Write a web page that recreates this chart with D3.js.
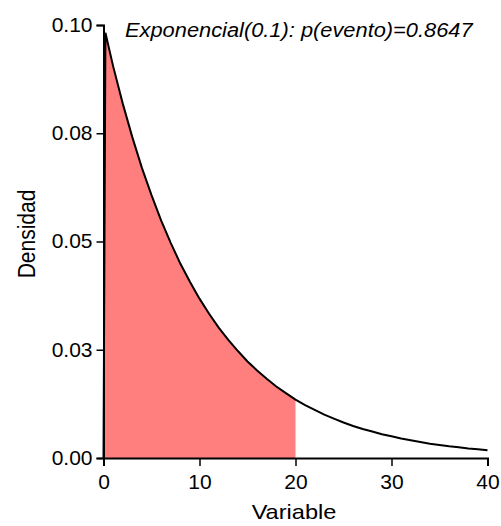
<!DOCTYPE html>
<html><head><meta charset="utf-8">
<script src="https://cdn.jsdelivr.net/npm/d3@7"></script>
<style>body{margin:0;background:#fff}svg{display:block}text{font-family:"Liberation Sans",Arial,sans-serif;fill:#000}</style>
</head><body>
<script>
// Density (x = Variable, y = Densidad)
const xVals = [0,0.2,1,2,3,4,5,6,7,8,9,10,11,12,13,14,15,16,17,18,19,20,21,22,23,24,25,26,27,28,29,30,31,32,33,34,35,36,37,38,39,40];
const density = [0,0.0982,0.0905,0.0819,0.0741,0.0670,0.0607,0.0549,0.0497,0.0449,0.0407,0.0368,0.0333,0.0301,0.0273,0.0247,0.0223,0.0202,0.0183,0.0165,0.0150,0.0135,0.0122,0.0111,0.0100,0.0091,0.0082,0.0074,0.0067,0.0061,0.0055,0.0050,0.0045,0.0041,0.0037,0.0033,0.0030,0.0027,0.0025,0.0022,0.0020,0.0018];
const shadeLimit = 20;
const xTicks = [0,10,20,30,40];
const yTicks = [0,0.025,0.05,0.075,0.1];
const yTickLabels = ["0.00","0.03","0.05","0.08","0.10"];
const title = "Exponencial(0.1): p(evento)=0.8647";
const xLabel = "Variable", yLabel = "Densidad";

const W = 501, H = 526;
const svg = d3.select("body").append("svg").attr("width", W).attr("height", H);
const x = d3.scaleLinear().domain([0,40]).range([103.5,487.5]);
const y = d3.scaleLinear().domain([0,0.1]).range([458,25]);
const pts = xVals.map((v,i)=>({x:v,y:density[i]}));

const shaded = pts.filter(d=>d.x<=shadeLimit);
svg.append("path").datum(shaded)
  .attr("fill","#ff7f7f")
  .attr("d", d3.area().x(d=>x(d.x)).y0(y(0)).y1(d=>y(d.y)));

svg.append("path").datum(pts)
  .attr("fill","none").attr("stroke","#000").attr("stroke-width",2)
  .attr("d", d3.line().x(d=>x(d.x)).y(d=>y(d.y)));

const xa = svg.append("g").attr("transform",`translate(0,${y(0)})`)
  .call(d3.axisBottom(x).tickValues(xTicks).tickSize(8).tickPadding(8).tickFormat(d3.format("d")));
const ya = svg.append("g").attr("transform",`translate(${x(0)},0)`)
  .call(d3.axisLeft(y).tickValues(yTicks).tickSize(7).tickPadding(4).tickFormat((d,i)=>yTickLabels[i]));
[xa,ya].forEach(g=>{
  g.select(".domain").attr("stroke","#000").attr("stroke-width",2);
  g.selectAll(".tick line").attr("stroke","#000").attr("stroke-width",1.5);
  g.selectAll(".tick text").attr("font-size",21).attr("font-family","Liberation Sans, Arial, sans-serif").attr("fill","#000");
});
ya.selectAll(".tick text").attr("dy","0.3em");

svg.append("text").attr("transform","translate(125,37) scale(1.12,1)").attr("font-size",19.5).attr("font-style","italic").text(title);
svg.append("text").attr("transform","translate(294,519) scale(1.15,1)").attr("text-anchor","middle").attr("font-size",20.5).text(xLabel);
svg.append("text").attr("transform","translate(35,234) rotate(-90) scale(1,1.15)").attr("text-anchor","middle").attr("font-size",21).text(yLabel);
</script>
</body></html>
